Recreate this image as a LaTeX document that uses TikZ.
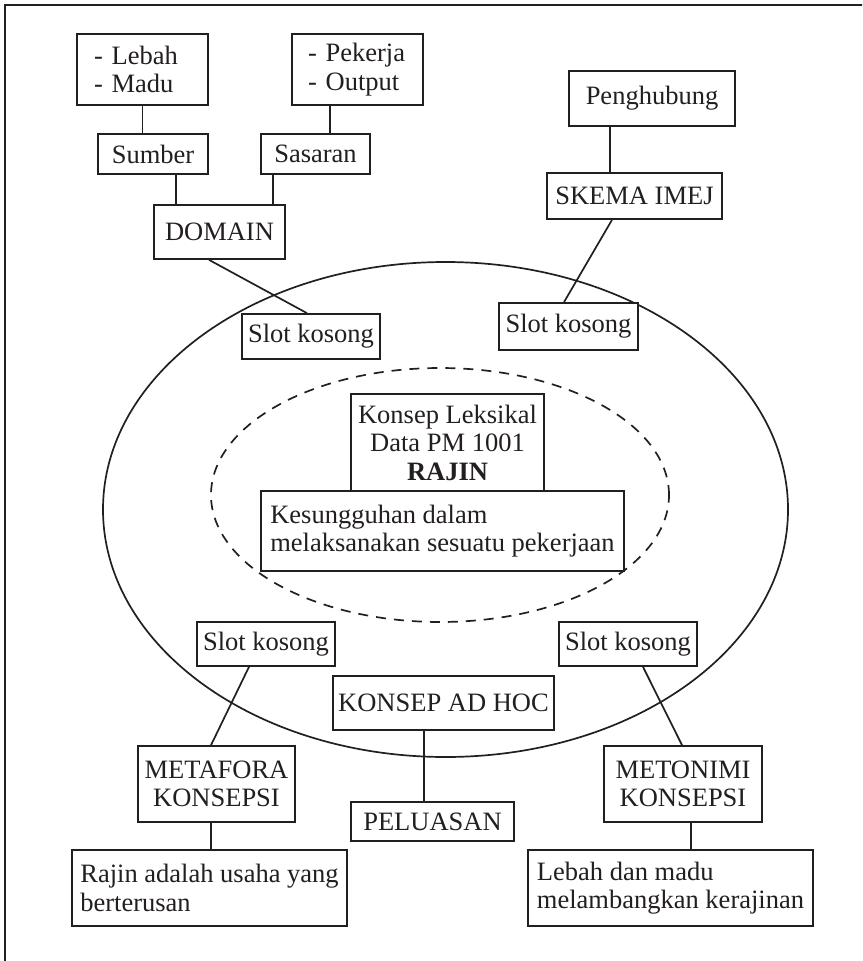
\documentclass[tikz,border=0pt]{standalone}
\usepackage{fontspec}
\setmainfont{Liberation Serif}
\definecolor{ink}{HTML}{231F20}
\begin{document}
\begin{tikzpicture}[x=1pt,y=-1pt,
  bx/.style={draw=ink, text=ink, line width=1.7pt, fill=white, inner sep=0pt, font=\fontsize{26.5}{28.5}\selectfont},
  ln/.style={draw=ink, line width=1.7pt}]
\useasboundingbox (0,0) rectangle (862,961);
\clip (0,0) rectangle (862,961);
\draw[ink, line width=1.8pt] (5,990) -- (5,5) -- (890,5);
% ellipses
\draw[ln] (445.5,509.5) ellipse [x radius=342.5pt, y radius=247.5pt];
\draw[ln, dash pattern=on 10pt off 8pt] (440,495) ellipse [x radius=229pt, y radius=127pt];
% top-left group
\node[bx, minimum width=131pt, minimum height=71pt, align=left, text width=97pt] (lebah) at (142.5,69.5) {- Lebah\\- Madu};
\node[bx, minimum width=131pt, minimum height=71pt, align=left, text width=99pt] (pekerja) at (357.5,69.5) {- Pekerja\\- Output};
\node[bx, minimum width=110pt, minimum height=40pt] (sumber) at (153,154) {Sumber};
\node[bx, minimum width=109pt, minimum height=40pt] (sasaran) at (315.5,154) {Sasaran};
\node[bx, minimum width=131pt, minimum height=54pt] (domain) at (219.5,232) {DOMAIN};
\node[bx, minimum width=138pt, minimum height=45pt] (slotA) at (311,336.5) {Slot kosong};
% top-right group
\node[bx, minimum width=166pt, minimum height=55pt] (penghubung) at (652,98.5) {Penghubung};
\node[bx, minimum width=175pt, minimum height=46pt] (skema) at (634.5,196) {SKEMA IMEJ};
\node[bx, minimum width=139pt, minimum height=47pt] (slotB) at (568.5,326.5) {Slot kosong};
% centre
\node[bx, minimum width=193pt, minimum height=97pt, align=center] (konsep) at (447.5,442.5) {Konsep Leksikal\\Data PM 1001\\\textbf{RAJIN}};
\node[bx, minimum width=363pt, minimum height=80pt, align=left] (kesung) at (442.5,531) {Kesungguhan dalam\\melaksanakan sesuatu pekerjaan};
% bottom
\node[bx, minimum width=138pt, minimum height=44pt] (slotC) at (266,644) {Slot kosong};
\node[bx, minimum width=221pt, minimum height=54pt] (adhoc) at (443.5,703) {KONSEP AD HOC};
\node[bx, minimum width=157pt, minimum height=76pt, align=center] (metafora) at (216.5,784) {METAFORA\\KONSEPSI};
\node[bx, minimum width=163pt, minimum height=39pt] (peluasan) at (432.5,821.5) {PELUASAN};
\node[bx, minimum width=275pt, minimum height=76pt, align=left] (rajin) at (209.5,888) {Rajin adalah usaha yang\\berterusan};
\node[bx, minimum width=138pt, minimum height=44pt] (slotD) at (628,644) {Slot kosong};
\node[bx, minimum width=158pt, minimum height=76pt, align=center] (metonimi) at (683,784) {METONIMI\\KONSEPSI};
\node[bx, minimum width=285pt, minimum height=76pt, align=left] (lebahmadu) at (670.5,888) {Lebah dan madu\\melambangkan kerajinan};
% connectors
\draw[ln] (lebah.south) -- (lebah.south |- sumber.north);
\draw[ln] ([xshift=-27.5pt]pekerja.south) -- ([xshift=-27.5pt]pekerja.south |- sasaran.north);
\draw[ln] ([xshift=23pt]sumber.south) -- ([xshift=23pt]sumber.south |- domain.north);
\draw[ln] ([xshift=-42.5pt]sasaran.south) -- ([xshift=-42.5pt]sasaran.south |- domain.north);
\draw[ln] ([xshift=-10.5pt]domain.south) -- ([xshift=-4pt]slotA.north);
\draw[ln] ([xshift=-42pt]penghubung.south) -- ([xshift=-42pt]penghubung.south |- skema.north);
\draw[ln] ([xshift=-22.5pt]skema.south) -- ([xshift=-4.5pt]slotB.north);
\draw[ln] ([xshift=-17pt]slotC.south) -- ([xshift=-5.5pt]metafora.north);
\draw[ln] ([xshift=-5.5pt]metafora.south) -- ([xshift=-5.5pt]metafora.south |- rajin.north);
\draw[ln] ([xshift=-19.5pt]adhoc.south) -- ([xshift=-19.5pt]adhoc.south |- peluasan.north);
\draw[ln] ([xshift=15pt]slotD.south) -- ([xshift=-1pt]metonimi.north);
\draw[ln] ([xshift=8pt]metonimi.south) -- ([xshift=8pt]metonimi.south |- lebahmadu.north);
\end{tikzpicture}
\end{document}
